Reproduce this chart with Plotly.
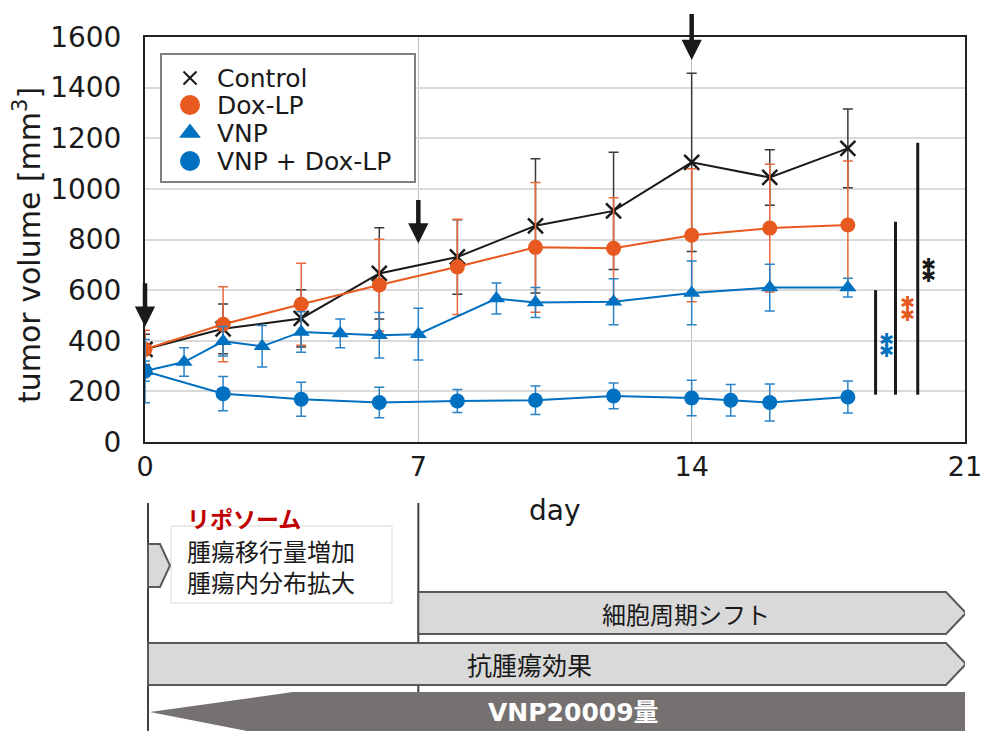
import plotly.graph_objects as go

# ---------------- data ----------------
days = [0, 2, 4, 6, 8, 10, 12, 14, 16, 18]
control = [366, 447, 488, 666, 731, 854, 913, 1105, 1045, 1160]
control_err = [60, 98, 113, 180, 147, 265, 232, 352, 110, 156]

dox = [366, 465, 544, 620, 692, 769, 765, 817, 845, 857]
dox_err = [75, 148, 162, 181, 188, 256, 200, 263, 252, 253]

vnp_days = [0, 1, 2, 3, 4, 5, 6, 7, 9, 10, 12, 14, 16, 18]
vnp = [280, 316, 398, 378, 435, 429, 422, 426, 567, 551, 554, 589, 610, 610]
vnp_err = [40, 56, 58, 82, 80, 57, 90, 102, 61, 59, 91, 126, 92, 37]

combo_days = [0, 2, 4, 6, 8, 10, 12, 14, 15, 16, 18]
combo = [280, 191, 169, 156, 162, 165, 182, 174, 165, 156, 178]
combo_err = [125, 68, 67, 60, 45, 56, 51, 70, 62, 73, 63]

series_names = ["Control", "Dox-LP", "VNP", "VNP + Dox-LP"]

x_ticks = [0, 7, 14, 21]
y_ticks = [0, 200, 400, 600, 800, 1000, 1200, 1400, 1600]

# dosing arrows: day, tail value, tip value
dose_days = [0, 7, 14]
dose_tail = [633, 962, 1697]
dose_tip = [455, 784, 1509]

# significance bars: x position (day), low, high, star centre values
sig_x = [18.71, 19.22, 19.79]
sig_low = [187, 187, 187]
sig_high = [600, 870, 1182]
star_x = [18.98, 19.52, 20.06]
star_top = [406, 551, 701]
star_bot = [360, 505, 657]

BLACK = "#1a1a1a"
ORANGE = "#E8591F"
BLUE = "#0070C0"
FONT = "DejaVu Sans, Noto Sans CJK JP, sans-serif"
JFONT = "Noto Sans CJK JP, sans-serif"

fig = go.Figure()

fig.add_trace(go.Scatter(
    x=days, y=control, mode="lines+markers", name=series_names[0], showlegend=False,
    line=dict(color=BLACK, width=2),
    marker=dict(symbol="x-thin", size=15, line=dict(color=BLACK, width=2.5)),
    error_y=dict(type="data", array=control_err, color="#3a3a3a", thickness=1.5, width=5),
))
fig.add_trace(go.Scatter(
    x=days, y=dox, mode="lines+markers", name=series_names[1], showlegend=False,
    line=dict(color=ORANGE, width=2),
    marker=dict(symbol="circle", size=15, color=ORANGE),
    error_y=dict(type="data", array=dox_err, color="#E8683A", thickness=1.5, width=5),
))
fig.add_trace(go.Scatter(
    x=vnp_days, y=vnp, mode="lines+markers", name=series_names[2], showlegend=False,
    line=dict(color=BLUE, width=2),
    marker=dict(symbol="triangle-up", size=15, color=BLUE),
    error_y=dict(type="data", array=vnp_err, color="#2B83C6", thickness=1.5, width=5),
))
fig.add_trace(go.Scatter(
    x=combo_days, y=combo, mode="lines+markers", name=series_names[3], showlegend=False,
    line=dict(color=BLUE, width=2),
    marker=dict(symbol="circle", size=15, color=BLUE),
    error_y=dict(type="data", array=combo_err, color="#2B83C6", thickness=1.5, width=5),
))

# invisible trace to activate the diagram axes
fig.add_trace(go.Scatter(x=[0, 21], y=[731, 490], xaxis="x2", yaxis="y2", mode="markers",
                         marker=dict(opacity=0), showlegend=False, hoverinfo="skip"))

# ---------- legend (drawn on an overlay axis measured in pixels) ----------
leg_rows = [78, 105, 133, 161]
leg_symbols = ["x-thin", "circle", "triangle-up", "circle"]
leg_colors = [BLACK, ORANGE, BLUE, BLUE]
leg_sizes = [13, 20, 19, 20]
for row, sym, col, sz in zip(leg_rows, leg_symbols, leg_colors, leg_sizes):
    mk = dict(symbol=sym, size=sz, color=col)
    if sym == "x-thin":
        mk["line"] = dict(color=col, width=2)
    fig.add_trace(go.Scatter(x=[190], y=[row], xaxis="x3", yaxis="y3", mode="markers",
                             marker=mk, showlegend=False, hoverinfo="skip"))

shapes = []
shapes.append(dict(type="rect", xref="x3", yref="y3", x0=161, x1=415, y0=54, y1=182,
                   layer="below", fillcolor="white", line=dict(color="#808080", width=2)))
for sx, lo, hi in zip(sig_x, sig_low, sig_high):
    shapes.append(dict(type="line", xref="x", yref="y", x0=sx, x1=sx, y0=lo, y1=hi,
                       line=dict(color=BLACK, width=3)))

# ---------- lower schematic (x in days, y in pixel rows) ----------
def d(px):
    return (px - 145) / 39.048

shapes.append(dict(type="line", xref="x2", yref="y2", x0=d(148), x1=d(148), y0=503, y1=735,
                   line=dict(color="#404040", width=2)))
shapes.append(dict(type="line", xref="x2", yref="y2", x0=7, x1=7, y0=503, y1=693,
                   line=dict(color="#404040", width=2)))
shapes.append(dict(type="rect", xref="x2", yref="y2", x0=d(171), x1=d(392), y0=526, y1=603,
                   fillcolor="white", line=dict(color="#d9d9d9", width=1)))


def pent(x0, x1, xt, y0, y1):
    ym = (y0 + y1) / 2
    return f"M {x0},{y0} L {x1},{y0} L {xt},{ym} L {x1},{y1} L {x0},{y1} Z"


shapes.append(dict(type="path", xref="x2", yref="y2", path=pent(d(148), d(160), d(170), 544, 587),
                   fillcolor="#d9d9d9", line=dict(color="#595959", width=2)))
shapes.append(dict(type="path", xref="x2", yref="y2", path=pent(7, d(946), d(966), 592, 634),
                   fillcolor="#d9d9d9", line=dict(color="#595959", width=2)))
shapes.append(dict(type="path", xref="x2", yref="y2", path=pent(d(148), d(946), d(966), 643, 685),
                   fillcolor="#d9d9d9", line=dict(color="#595959", width=2)))
shapes.append(dict(type="path", xref="x2", yref="y2",
                   path=f"M {d(150)},712 L {d(293)},692 L {d(966)},692 L {d(966)},740 L {d(293)},740 Z",
                   fillcolor="#767171", line=dict(width=0)))

annotations = []
for row, name in zip(leg_rows, series_names):
    annotations.append(dict(x=215, y=row, xref="x3", yref="y3", xanchor="left", yanchor="middle",
                            text=name, showarrow=False,
                            font=dict(family=FONT, size=25, color=BLACK)))
for dd, tail, tip in zip(dose_days, dose_tail, dose_tip):
    annotations.append(dict(x=dd, y=tip, ax=dd, ay=tail, xref="x", yref="y", axref="x", ayref="y",
                            text="", showarrow=True, arrowhead=2, arrowsize=0.9, arrowwidth=4.5,
                            arrowcolor=BLACK, standoff=0))
for sx, t, b, col in zip(star_x, star_top, star_bot, [BLUE, ORANGE, BLACK]):
    for yy in (t, b):
        annotations.append(dict(x=sx, y=yy, xref="x", yref="y", text="✱", showarrow=False,
                                font=dict(family="DejaVu Sans", size=18, color=col)))

annotations.append(dict(x=d(555), y=510, xref="x2", yref="y2", text="day", showarrow=False,
                        font=dict(family=FONT, size=28, color=BLACK)))
annotations.append(dict(x=(27 - 145) / 820, y=(731 - 245) / 694, xref="paper", yref="paper",
                        xanchor="center", yanchor="middle",
                        text="tumor volume [mm<sup>3</sup>]", textangle=-90, showarrow=False,
                        font=dict(family=FONT, size=30, color=BLACK)))
annotations.append(dict(x=d(185), y=518, xref="x2", yref="y2", xanchor="left", text="<b>リポソーム</b>",
                        showarrow=False, font=dict(family=JFONT, size=23, color="#C00000")))
annotations.append(dict(x=d(185), y=566, xref="x2", yref="y2", xanchor="left", align="left",
                        text="腫瘍移行量増加<br>腫瘍内分布拡大",
                        showarrow=False, font=dict(family=JFONT, size=24, color=BLACK)))
annotations.append(dict(x=d(686), y=613, xref="x2", yref="y2", text="細胞周期シフト",
                        showarrow=False, font=dict(family=JFONT, size=24, color=BLACK)))
annotations.append(dict(x=d(529), y=664, xref="x2", yref="y2", text="抗腫瘍効果",
                        showarrow=False, font=dict(family=JFONT, size=25, color=BLACK)))
annotations.append(dict(x=d(573), y=712, xref="x2", yref="y2", text="<b>VNP20009量</b>",
                        showarrow=False,
                        font=dict(family="DejaVu Sans, Noto Sans CJK JP", size=25, color="white")))

fig.update_layout(
    width=982, height=731,
    margin=dict(l=145, r=17, t=37, b=0, autoexpand=False),
    paper_bgcolor="white", plot_bgcolor="rgba(0,0,0,0)",
    font=dict(family=FONT, color=BLACK),
    showlegend=False,
    xaxis=dict(domain=[0, 1], range=[0, 21], anchor="y", tickvals=x_ticks,
               showgrid=True, gridcolor="#c0c0c0", gridwidth=1, zeroline=False,
               showline=True, mirror=True, linecolor="#222222", linewidth=2, automargin=False,
               ticks="", tickfont=dict(size=27, color=BLACK), ticklabelstandoff=0,
               ticklabeloverflow="allow"),
    yaxis=dict(domain=[(731 - 442) / 694, 1], range=[0, 1600], anchor="x", tickvals=y_ticks,
               showgrid=True, gridcolor="#dadada", gridwidth=2, zeroline=False,
               showline=True, mirror=True, linecolor="#222222", linewidth=2, automargin=False,
               ticks="", tickfont=dict(size=28, color=BLACK), ticklabelstandoff=16,
               ticklabeloverflow="allow"),
    xaxis2=dict(domain=[0, 1], range=[0, 21], anchor="y2", visible=False, automargin=False),
    yaxis2=dict(domain=[0, (731 - 490) / 694], range=[731, 490], anchor="x2", visible=False,
                automargin=False),
    xaxis3=dict(domain=[0, 1], range=[145, 965], anchor="y3", visible=False, automargin=False),
    yaxis3=dict(domain=[0, 1], range=[731, 37], anchor="x3", visible=False, automargin=False),
    shapes=shapes, annotations=annotations,
)

fig.write_html("out.html", config={"displayModeBar": False},
               post_script="document.body.style.margin='0px';")
